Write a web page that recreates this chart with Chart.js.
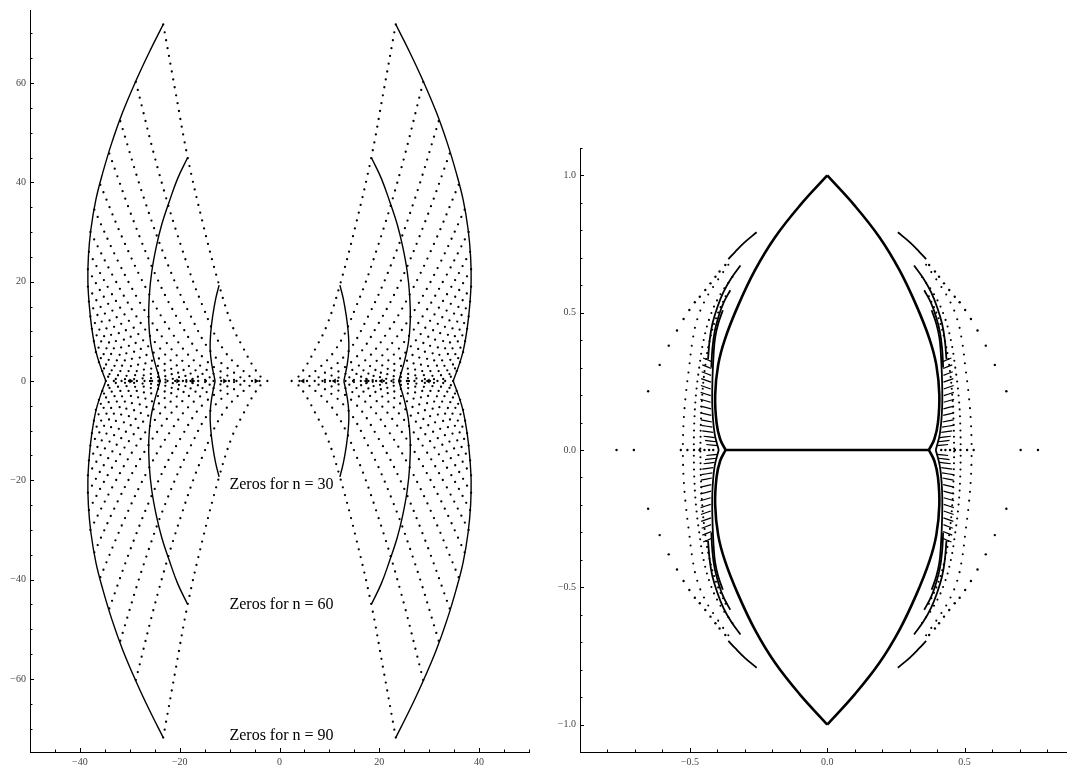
<!DOCTYPE html>
<html>
<head>
<meta charset="utf-8">
<script src="https://cdn.jsdelivr.net/npm/chart.js@4.4.1/dist/chart.umd.min.js"></script>
<style>
  html, body { margin: 0; padding: 0; background: #fff; overflow: hidden; }
  #leftBox { position: absolute; left: 0; top: 0; width: 540px; height: 768px; }
  #rightBox { position: absolute; left: 540px; top: 0; width: 540px; height: 768px; }
</style>
</head>
<body>
<div id="leftBox"><canvas id="zerosChart"></canvas></div>
<div id="rightBox"><canvas id="scaledChart"></canvas></div>
<script>
// Both panels are symmetric in x and y, so only the upper-left quarter is listed.

// ---- left panel: zeros for n = 30, 60, 90 ----
const outer90 = [[-23.3,71.8],[-26.1,66.2],[-28.7,60.6],[-31.4,54.2],[-33.6,48],[-35.4,42],[-36.8,36.5],[-37.8,30.5],[-38.3,25],[-38.4,20],[-38.1,15],[-37.6,10.5],[-36.8,6],[-35.9,3],[-34.8,0]];
const curve60 = [[-18.4,45],[-20.4,40.8],[-22.1,36.1],[-23.6,31.5],[-24.7,27],[-25.6,22],[-26.1,17],[-26.2,12],[-25.8,7.5],[-25.0,3.8],[-23.9,0]];
const curve30 = [[-12.1,19.3],[-12.8,16.5],[-13.4,13],[-13.8,9.5],[-13.9,6.5],[-13.6,3.5],[-12.9,0]];

// dotted rows of zeros running from the outer curve down to the real axis
const zeroRays = [
  [[-23.3,71.8],[-20.8,58],[-18.4,45],[-15.3,31.5],[-12.1,19.3],[-9.5,11.2],[-7.3,6.7],[-5.0,2.5],[-3.1,0]],
  [[-28.8,60.2],[-24.2,42.1],[-19.7,27.1],[-15.4,15.1],[-11.0,6.0],[-5.0,0]],
  [[-31.9,52.3],[-27.1,36.6],[-22.4,23.5],[-17.8,13.1],[-13.2,5.2],[-6.9,0]],
  [[-34.1,45.8],[-29.2,32.1],[-24.5,20.6],[-19.8,11.5],[-15.2,4.6],[-8.8,0]],
  [[-35.9,39.5],[-31.0,27.7],[-26.3,17.8],[-21.7,9.9],[-17.0,4.0],[-10.7,0]],
  [[-37.1,34.5],[-32.4,24.2],[-27.8,15.5],[-23.3,8.6],[-18.8,3.5],[-12.6,0]],
  [[-37.9,30],[-33.3,21],[-29.0,13.5],[-24.7,7.5],[-20.4,3.0],[-14.5,0]],
  [[-38.2,26],[-34.0,18.2],[-29.9,11.7],[-25.9,6.5],[-21.9,2.6],[-16.4,0]],
  [[-38.4,22.5],[-34.5,15.8],[-30.7,10.1],[-27.0,5.6],[-23.3,2.3],[-18.3,0]],
  [[-38.4,19],[-34.8,13.3],[-31.4,8.6],[-28.1,4.8],[-24.8,1.9],[-20.2,0]],
  [[-38.2,16],[-35.1,11.2],[-32.1,7.2],[-29.1,4.0],[-26.1,1.6],[-22.1,0]],
  [[-37.9,13],[-35.2,9.1],[-32.6,5.9],[-30.1,3.3],[-27.5,1.3],[-24.0,0]],
  [[-37.6,10.5],[-35.3,7.4],[-33.1,4.7],[-31.0,2.6],[-28.8,1.1],[-25.9,0]],
  [[-37.2,8],[-35.4,5.6],[-33.6,3.6],[-31.9,2.0],[-30.2,0.8],[-27.8,0]],
  [[-36.8,5.8],[-35.4,4.1],[-34.1,2.6],[-32.8,1.5],[-31.5,0.6],[-29.7,0]],
  [[-36.2,3.8],[-35.3,2.7],[-34.4,1.7],[-33.6,1.0],[-32.8,0.4],[-31.6,0]],
  [[-35.5,2],[-34.5,1],[-33.3,0]],
];
const axisRow = [[-34.8,0],[-1.6,0]];
const axisArrows = [[-29.8,0],[-20.4,0],[-17.4,0],[-11.0,0],[-4.7,0]];

const labelTexts = ["Zeros for n = 30", "Zeros for n = 60", "Zeros for n = 90"];
const labelX = [0.4, 0.4, 0.4];
const labelY = [-20.8, -45.1, -71.5];

// ---- right panel: zeros divided by n ----
const lens = [[0,1],[-0.1,0.89],[-0.19,0.775],[-0.263,0.655],[-0.325,0.525],[-0.372,0.405],[-0.397,0.31],[-0.408,0.2],[-0.403,0.1],[-0.39,0.04],[-0.37,0]];
const lensBase = [[-0.37,0],[0.37,0]];
const solidArcs = [
  [[-0.257,0.793],[-0.30,0.757],[-0.335,0.722],[-0.36,0.695]],
  [[-0.316,0.672],[-0.35,0.625],[-0.378,0.575],[-0.40,0.52],[-0.418,0.46],[-0.428,0.40],[-0.434,0.33]],
  [[-0.353,0.582],[-0.378,0.535],[-0.396,0.485],[-0.41,0.43],[-0.418,0.37],[-0.422,0.30]],
  [[-0.38,0.509],[-0.397,0.46],[-0.408,0.41],[-0.413,0.36],[-0.418,0.25],[-0.418,0.15],[-0.41,0.06],[-0.395,0]],
];
const dottedArcs = [
  [[-0.36,0.675],[-0.404,0.611],[-0.441,0.552],[-0.472,0.48],[-0.49,0.40],[-0.503,0.30],[-0.515,0.2],[-0.523,0.1],[-0.526,0]],
  [[-0.345,0.63],[-0.39,0.565],[-0.425,0.49],[-0.45,0.40],[-0.466,0.30],[-0.478,0.2],[-0.484,0.1],[-0.486,0]],
  [[-0.37,0.56],[-0.405,0.48],[-0.43,0.39],[-0.445,0.30],[-0.455,0.2],[-0.46,0.1],[-0.462,0]],
];
const dottedGaps = [9, 7, 6];
const combSpikes = [
  [[-0.452,0.335],[-0.421,0.322]], [[-0.455,0.31],[-0.422,0.297]], [[-0.457,0.285],[-0.423,0.272]],
  [[-0.459,0.26],[-0.423,0.247]], [[-0.46,0.235],[-0.424,0.222]], [[-0.461,0.21],[-0.424,0.198]],
  [[-0.462,0.185],[-0.424,0.174]], [[-0.462,0.16],[-0.423,0.15]], [[-0.461,0.135],[-0.422,0.126]],
  [[-0.46,0.11],[-0.42,0.102]], [[-0.458,0.09],[-0.418,0.083]], [[-0.455,0.07],[-0.415,0.064]],
  [[-0.45,0.05],[-0.41,0.045]], [[-0.445,0.035],[-0.404,0.03]], [[-0.44,0.02],[-0.398,0.016]],
];
const outerDots = [[-0.371,0.674],[-0.392,0.65],[-0.407,0.631],[-0.425,0.607],[-0.444,0.583],[-0.464,0.558],[-0.482,0.538],[-0.502,0.51],[-0.523,0.477],[-0.547,0.435],[-0.577,0.38],[-0.61,0.31],[-0.652,0.214]];
const axisDots = [[-0.767,0],[-0.704,0],[-0.533,0],[-0.509,0],[-0.485,0],[-0.465,0],[-0.447,0],[-0.43,0],[-0.415,0]];

// ---- helpers ----
const mirrorX = (pts) => pts.map(([x, y]) => [-x, y]);
const mirrorY = (pts) => pts.map(([x, y]) => [x, -y]);
const fourWays = (pts) => [pts, mirrorX(pts), mirrorY(pts), mirrorX(mirrorY(pts))];

function lineSet(pts, width, gap) {
  return {
    data: pts.map(([x, y]) => ({ x, y })),
    showLine: true,
    borderColor: "#000",
    borderWidth: width,
    borderDash: gap ? [0, gap] : [],
    borderCapStyle: gap ? "round" : "butt",
    borderJoinStyle: "round",
    tension: 0.4,
    pointRadius: 0,
    fill: false,
  };
}

function dotSet(pts, radius, style, rotation) {
  return {
    data: pts.map(([x, y]) => ({ x, y })),
    showLine: false,
    pointRadius: radius,
    pointStyle: style || "circle",
    rotation: rotation || 0,
    backgroundColor: "#000",
    borderWidth: 0,
  };
}

const minus = (v, digits) => (v < 0 ? "\u2212" : "") + (digits ? Math.abs(v).toFixed(digits) : Math.abs(v));
// label only every n-th step (the left x axis would otherwise start its labels at -50)
const every = (n, digits) => (v) => (Math.abs(v / n - Math.round(v / n)) < 1e-6 ? minus(v, digits) : "");

// inward tick marks, minor and major, like the original frame
const innerTicks = {
  id: "innerTicks",
  afterDraw(chart, args, opts) {
    const { ctx, chartArea, scales } = chart;
    const values = (min, max, step) => {
      const out = [];
      for (let i = Math.ceil(min / step - 1e-6); i * step <= max + 1e-6; i++) out.push(i * step);
      return out;
    };
    const isMajor = (v, major) => Math.abs(v / major - Math.round(v / major)) < 1e-6;
    ctx.save();
    ctx.strokeStyle = "#000";
    ctx.lineWidth = 1;
    ctx.beginPath();
    values(scales.x.min, scales.x.max, opts.x[0]).forEach((v) => {
      const px = Math.round(scales.x.getPixelForValue(v)) + 0.5;
      const len = isMajor(v, opts.x[1]) ? 4 : 2.5;
      ctx.moveTo(px, chartArea.bottom);
      ctx.lineTo(px, chartArea.bottom - len);
    });
    values(scales.y.min, scales.y.max, opts.y[0]).forEach((v) => {
      const py = Math.round(scales.y.getPixelForValue(v)) + 0.5;
      const len = isMajor(v, opts.y[1]) ? 4 : 2.5;
      ctx.moveTo(chartArea.left, py);
      ctx.lineTo(chartArea.left + len, py);
    });
    ctx.stroke();
    ctx.restore();
  },
};

// "Zeros for n = ..." captions placed in data coordinates
const zeroLabels = {
  id: "zeroLabels",
  afterDraw(chart) {
    const { ctx, scales } = chart;
    ctx.save();
    ctx.fillStyle = "#000";
    ctx.font = "16px 'Liberation Serif'";
    ctx.textAlign = "center";
    ctx.textBaseline = "middle";
    labelTexts.forEach((t, i) => {
      ctx.fillText(t, scales.x.getPixelForValue(labelX[i]), scales.y.getPixelForValue(labelY[i]));
    });
    ctx.restore();
  },
};

function axisOptions(min, max, step, size, fmt) {
  return {
    type: "linear",
    min,
    max,
    afterFit: (s) => {
      if (s.isHorizontal()) s.height = 16;
      else s.width = size;
    },
    grid: { display: true, drawOnChartArea: false, drawTicks: false },
    border: { display: true, color: "#000", width: 1 },
    ticks: {
      stepSize: step,
      includeBounds: false,
      autoSkip: false,
      maxRotation: 0,
      padding: 4,
      color: "#444",
      font: { family: "'Liberation Serif'", size: 10 },
      callback: fmt,
    },
  };
}

// ---- left chart ----
const leftSets = [];
[outer90, curve60, curve30].forEach((c) => fourWays(c).forEach((p) => leftSets.push(lineSet(p, 1.4))));
zeroRays.forEach((r) => fourWays(r).forEach((p) => leftSets.push(lineSet(p, 2.3, 8))));
[axisRow, mirrorX(axisRow)].forEach((p) => leftSets.push(lineSet(p, 2.3, 7.7)));
leftSets.push(dotSet(axisArrows, 2.8, "triangle", 90));
leftSets.push(dotSet(mirrorX(axisArrows), 2.8, "triangle", -90));

new Chart(document.getElementById("zerosChart"), {
  type: "scatter",
  data: { datasets: leftSets },
  options: {
    responsive: true,
    maintainAspectRatio: false,
    animation: false,
    events: [],
    layout: { padding: { top: 7, right: 11, left: 0, bottom: 0 } },
    plugins: {
      legend: { display: false },
      tooltip: { enabled: false },
      innerTicks: { x: [5, 20], y: [5, 20] },
    },
    scales: {
      x: axisOptions(-50, 50, 10, 0, every(20)),
      y: axisOptions(-74.7, 74.7, 20, 30, every(20)),
    },
  },
  plugins: [innerTicks, zeroLabels],
});

// ---- right chart ----
const rightSets = [];
fourWays(lens).forEach((p) => rightSets.push(lineSet(p, 2.6)));
rightSets.push(lineSet(lensBase, 2.6));
solidArcs.forEach((a) => fourWays(a).forEach((p) => rightSets.push(lineSet(p, 1.8))));
dottedArcs.forEach((a, i) => fourWays(a).forEach((p) => rightSets.push(lineSet(p, 2.1, dottedGaps[i]))));
combSpikes.forEach((s) => fourWays(s).forEach((p) => rightSets.push(lineSet(p, 1.2))));
fourWays(outerDots).forEach((p) => rightSets.push(dotSet(p, 1.2)));
[axisDots, mirrorX(axisDots)].forEach((p) => rightSets.push(dotSet(p, 1.2)));

new Chart(document.getElementById("scaledChart"), {
  type: "scatter",
  data: { datasets: rightSets },
  options: {
    responsive: true,
    maintainAspectRatio: false,
    animation: false,
    events: [],
    layout: { padding: { top: 148, right: 5.5, left: 0, bottom: 0 } },
    plugins: {
      legend: { display: false },
      tooltip: { enabled: false },
      innerTicks: { x: [0.1, 0.5], y: [0.1, 0.5] },
    },
    scales: {
      x: axisOptions(-0.9, 0.9, 0.5, 0, every(0.5, 1)),
      y: axisOptions(-1.1, 1.1, 0.5, 40, every(0.5, 1)),
    },
  },
  plugins: [innerTicks],
});
</script>
</body>
</html>
